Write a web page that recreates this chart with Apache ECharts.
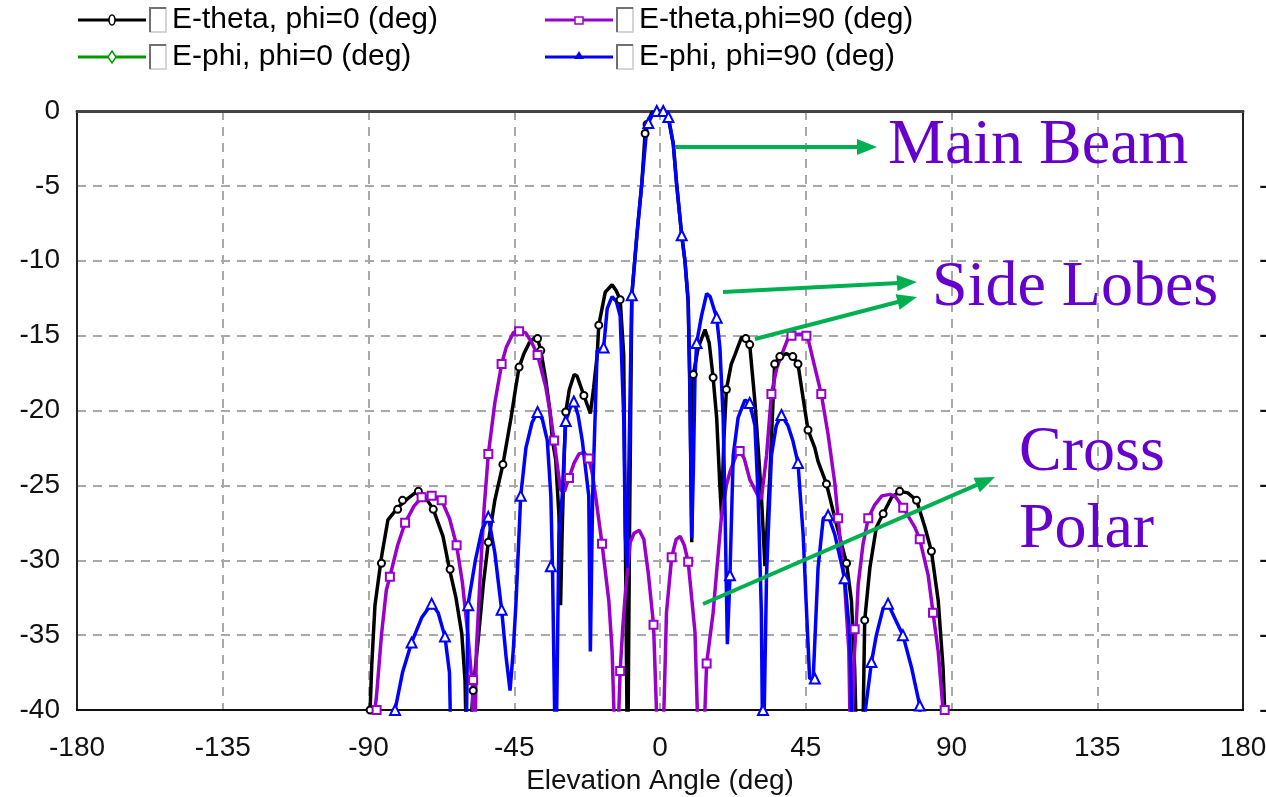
<!DOCTYPE html>
<html><head><meta charset="utf-8">
<script src="https://cdn.jsdelivr.net/npm/echarts@6/dist/echarts.min.js"></script>
<style>html,body{margin:0;padding:0;background:#fff}#c{width:1266px;height:797px}</style>
</head><body><div id="c"></div>
<script>
// ---------- DATA ----------
const seriesNames = ['E-theta, phi=0 (deg)', 'E-phi, phi=0 (deg)', 'E-theta,phi=90 (deg)', 'E-phi, phi=90 (deg)'];
const annotations = ['Main Beam', 'Side Lobes', 'Cross', 'Polar'];
const xAxisTitle = 'Elevation Angle (deg)';

// [elevation deg, dB]; values below the -40 dB floor read as -45
const eThetaPhi0 = [[-89.5,-40],[-89,-37],[-88,-33],[-86,-29.8],[-84,-27.3],[-81,-26.5],[-78,-25.9],[-75,-25.4],[-73,-25.6],[-70,-26.6],[-67,-28.4],[-65,-30.6],[-63,-32.5],[-61.2,-34.9],[-60.2,-38],[-59.5,-45],[-58.7,-42],[-57.7,-38.7],[-56,-35],[-54.5,-31.5],[-53,-28.8],[-51,-26],[-48.5,-23.6],[-46,-20.5],[-44.5,-18.4],[-43.5,-17.1],[-42,-16.2],[-40.4,-15.5],[-38.5,-15.1],[-37.8,-15.2],[-36.8,-16],[-35.3,-17.9],[-34,-20],[-33.2,-22],[-32.2,-23.3],[-31.2,-27],[-30.7,-33],[-30.2,-28],[-29.5,-22.5],[-29.1,-20.1],[-28,-18.6],[-26.5,-17.6],[-25.6,-17.7],[-23.5,-19],[-21.5,-20.2],[-20.5,-18.5],[-19.4,-16.3],[-18.9,-14.3],[-16.9,-12.1],[-14.8,-11.6],[-13.5,-12],[-12.3,-12.6],[-11.2,-16.3],[-10.7,-28.3],[-10,-45],[-9.4,-28],[-8.7,-12.3],[-7.1,-8.2],[-5.6,-4.8],[-4.6,-1.5],[-4,-0.9],[-2.5,-0.1],[0,0],[2,-0.3],[2.6,-0.5],[4.1,-2.2],[5.1,-4.8],[6.7,-8.3],[7.7,-10],[8.7,-12.8],[9.2,-18.4],[9.8,-28.8],[10.3,-17.6],[11.8,-15.8],[13.9,-14.6],[15.2,-15.5],[16.4,-17.8],[17.5,-20.5],[18.5,-25.1],[19,-27],[19.7,-22],[20.5,-18.6],[22,-16.9],[23.1,-16.3],[25.2,-15.1],[26.5,-15.2],[27.7,-15.6],[29.3,-19.4],[30.3,-22.5],[31.3,-25.7],[32.4,-30.4],[33.9,-24.4],[35.4,-16.9],[37,-16.4],[39,-16.2],[41,-16.4],[42.6,-16.9],[44.2,-19.2],[45.7,-21.3],[47.8,-22.5],[48.8,-23.4],[51.4,-24.9],[54,-27.2],[57.6,-30.2],[59.1,-32.7],[60.1,-37.2],[61,-45],[62.4,-45],[63.2,-34],[64.8,-30.5],[66.8,-27.8],[68.9,-26.9],[71.5,-25.8],[74,-25.4],[76.5,-25.5],[79.2,-26],[81.8,-27.8],[83.8,-29.4],[85.9,-32.7],[87.4,-37.2],[87.9,-40]];
const ePhiPhi0 = []; // entirely below the -40 dB floor
const eThetaPhi90 = [[-88,-40],[-87.5,-39],[-86,-35],[-84.5,-32],[-83.4,-31.1],[-81,-29],[-78.7,-27.5],[-76,-26.4],[-73.6,-25.8],[-70,-25.7],[-67.4,-26],[-65,-27.2],[-62.8,-29],[-61,-31.5],[-59.3,-35],[-57.9,-38.5],[-57.3,-45],[-56.7,-36],[-55.5,-31],[-54.3,-26.5],[-53,-22.9],[-51,-19.5],[-48.9,-16.9],[-47.5,-15.8],[-45.3,-14.8],[-44,-14.7],[-41.5,-14.8],[-39.5,-15.5],[-37.8,-16.3],[-35.3,-18.4],[-34,-20],[-32.7,-22],[-31.5,-24],[-30.7,-25.3],[-29.5,-25.4],[-28.1,-24.5],[-26.5,-23.5],[-25,-22.9],[-23.5,-22.8],[-22,-23.2],[-20.9,-24.2],[-19.9,-25.7],[-17.9,-28.9],[-15.8,-32.7],[-14.8,-36],[-13.5,-45],[-12.3,-37.4],[-11.5,-34.5],[-10.7,-32.2],[-9.2,-28.8],[-8,-28.2],[-6.4,-28],[-5,-28.6],[-3.6,-30.9],[-2,-34.3],[-0.3,-45],[0.6,-45],[2,-33.5],[3.6,-29.8],[5,-28.6],[6.2,-28.4],[7.5,-29],[8.7,-30.1],[10.8,-34.8],[12.2,-45],[13,-45],[14.4,-36.9],[16.4,-33.5],[19,-27],[20.5,-25],[21.6,-24.1],[23.5,-23],[24.6,-22.7],[26,-23.2],[27.7,-24.6],[30.3,-25.7],[31.3,-25.9],[32.9,-23],[34.4,-18.9],[36,-17.2],[37.5,-16.3],[39.5,-15.2],[41,-15],[42.6,-14.9],[44.5,-14.9],[45.7,-15.2],[47.8,-17.1],[49.8,-18.9],[51.9,-21.6],[54,-24.9],[55,-27.2],[57,-31.6],[58.3,-36],[59,-45],[59.8,-37],[60.5,-34.6],[61.2,-31.6],[62.7,-28.9],[64.3,-27.2],[66.3,-26.3],[68.5,-25.7],[71,-25.6],[72.5,-25.7],[75.1,-26.5],[78.7,-27.8],[80.2,-28.6],[82.8,-31],[84.3,-33.5],[85.9,-36.1],[87.4,-40]];
const ePhiPhi90 = [[-82.3,-45],[-81.8,-40],[-79.5,-37.5],[-76.7,-35.5],[-73.5,-33.8],[-70.5,-32.9],[-68.5,-33.5],[-66.4,-35.1],[-65,-37.5],[-64.3,-45],[-60,-45],[-59.3,-33],[-57,-30],[-55,-28],[-53,-27.1],[-51,-29.5],[-48.9,-33.3],[-47.5,-36.5],[-46.3,-38.7],[-45.3,-36],[-44.5,-33],[-43,-25.7],[-41.4,-22.5],[-39.5,-20.8],[-37.8,-20.1],[-36.3,-20.6],[-34.8,-22],[-33.7,-25.7],[-33.2,-30.4],[-32.2,-45],[-31.2,-28.3],[-30.2,-25.7],[-29.1,-20.7],[-27.5,-19.7],[-26.6,-19.4],[-25.3,-20.3],[-24,-22],[-22,-25.7],[-21.5,-36.1],[-20.8,-25.7],[-19.4,-16],[-17.4,-15.8],[-16.3,-13.2],[-14.8,-12.4],[-13.5,-12.7],[-12.3,-13.7],[-11.2,-20.5],[-10.7,-28.3],[-10.2,-30.5],[-9.7,-25],[-9.2,-18.4],[-8.7,-12.3],[-7.1,-8.2],[-5.6,-4.8],[-4.1,-1.2],[-3.6,-0.8],[-2,-0.1],[0,0],[1.5,-0.1],[2.6,-0.4],[4.1,-2.2],[5.1,-4.8],[6.7,-8.3],[7.7,-10],[8.7,-12.6],[9.2,-17.8],[9.8,-28.5],[10.3,-24],[10.8,-17.8],[11.3,-15.5],[12.8,-13.7],[14.4,-12.2],[15.5,-12.4],[17.5,-13.8],[18.5,-15.8],[19.5,-20.5],[20,-25.7],[20.8,-35.6],[21.6,-31],[22.6,-23],[24.1,-20.5],[26.2,-19.3],[27.7,-19.5],[29.3,-21],[30.3,-25.7],[31.3,-33.5],[31.8,-45],[32.9,-30.9],[34.4,-23],[35.9,-21],[37.5,-20.3],[39.5,-21],[41,-22],[42.6,-23.5],[44.2,-28.3],[45.2,-33.2],[46.2,-37.9],[47.3,-37.9],[48.8,-30.5],[50.4,-27.2],[51.9,-27],[54,-28.3],[57,-31.2],[58.6,-35],[59.6,-45],[63,-45],[63.4,-40],[65.3,-36.8],[66.8,-35],[68.9,-33.2],[70.4,-32.9],[73,-34.1],[75,-35],[77.7,-37.2],[80.2,-39.7],[80.7,-45]];

// marker positions (sparse sample markers drawn on the curves)
const eThetaPhi0Markers = [[-89.5,-40],[-86,-30.2],[-81,-26.6],[-79.5,-26],[-74.6,-25.4],[-70,-26.6],[-64.8,-30.6],[-57.7,-38.7],[-53,-28.8],[-48.5,-23.6],[-43.5,-17.1],[-37.8,-15.2],[-36.8,-16],[-29.1,-20.1],[-23.5,-19],[-18.9,-14.3],[-12.3,-12.6],[-4.6,-1.5],[-4,-0.9],[10.3,-17.6],[16.4,-17.8],[20.5,-18.6],[26.5,-15.2],[27.7,-15.6],[35.4,-16.9],[37,-16.4],[41,-16.4],[42.6,-16.9],[45.7,-21.3],[51.4,-24.9],[57.6,-30.2],[63.2,-34],[68.9,-26.9],[74,-25.4],[79.2,-26],[83.8,-29.4],[87.9,-40]];
const ePhiPhi0Markers = [];
const eThetaPhi90Markers = [[-87.5,-40],[-83.4,-31.1],[-78.7,-27.5],[-73.6,-25.8],[-70.5,-25.7],[-67.4,-26],[-62.8,-29],[-57.7,-38],[-53,-22.9],[-48.9,-16.9],[-43.5,-14.7],[-37.8,-16.3],[-32.7,-22],[-28.1,-24.5],[-22,-23.2],[-17.9,-28.9],[-12.3,-37.4],[-2,-34.3],[3.6,-29.8],[8.7,-30.1],[14.4,-36.9],[24.6,-22.7],[34.4,-18.9],[40.6,-15],[45.2,-15],[49.8,-18.9],[55,-27.2],[60.1,-34.6],[64.3,-27.2],[75.1,-26.5],[80.2,-28.6],[84.3,-33.5],[87.9,-40]];
const ePhiPhi90Markers = [[-81.8,-40],[-76.7,-35.5],[-70.5,-32.9],[-66.4,-35.1],[-59.2,-33],[-53,-27.1],[-48.9,-33.3],[-43,-25.7],[-37.8,-20.1],[-33.7,-30.4],[-29.1,-20.7],[-26.6,-19.4],[-17.4,-15.8],[-8.7,-12.3],[-3.6,-0.8],[-1,0],[1,0],[2.6,-0.4],[6.7,-8.3],[11.3,-15.5],[17.5,-13.8],[21.6,-31],[27.7,-19.5],[31.8,-40],[37.5,-20.3],[42.6,-23.5],[47.8,-37.9],[51.9,-27],[57,-31.2],[65.3,-36.8],[70.4,-32.9],[75,-35],[80.2,-39.7]];

// ---------- STYLE ----------
const colors = ['#000000', '#009A00', '#9A00CC', '#0000FF'];
const markerSymbols = ['circle', 'emptyDiamond', 'rect', 'triangle'];
const lines = [eThetaPhi0, ePhiPhi0, eThetaPhi90, ePhiPhi90];
const markers = [eThetaPhi0Markers, ePhiPhi0Markers, eThetaPhi90Markers, ePhiPhi90Markers];
const SANS = 'Liberation Sans, Arial, sans-serif';
const SERIF = 'Liberation Serif, Times New Roman, serif';
const annColor = '#6600CC';
const arrowColor = '#00B050';

const series = [];
seriesNames.forEach((n, i) => {
  series.push({
    name: n, type: 'line', data: lines[i], showSymbol: false, clip: true,
    lineStyle: { color: colors[i], width: 3.5 }, z: 3 + i, animation: false
  });
});
seriesNames.forEach((n, i) => {
  series.push({
    name: n + ' markers', type: 'scatter', data: markers[i], clip: false,
    symbol: markerSymbols[i],
    symbolSize: i === 3 ? 10 : (i === 2 ? 8 : 7),
    itemStyle: { color: '#fff', borderColor: colors[i], borderWidth: 2, opacity: 1 },
    z: 10 + i, animation: false, silent: true
  });
});

// ---------- LEGEND (custom, with check boxes) ----------
const graphic = [];
function legendItem(i, x0, y) {
  const c = colors[i];
  graphic.push({ type: 'line', shape: { x1: x0, y1: y, x2: x0 + 68, y2: y }, style: { stroke: c, lineWidth: 3 } });
  const mx = x0 + 34;
  if (i === 0) graphic.push({ type: 'ellipse', shape: { cx: mx, cy: y, rx: 3, ry: 5 }, style: { fill: '#fff', stroke: c, lineWidth: 1.5 } });
  if (i === 1) graphic.push({ type: 'polygon', shape: { points: [[mx, y - 6], [mx + 4, y], [mx, y + 6], [mx - 4, y]] }, style: { fill: '#fff', stroke: c, lineWidth: 1.5 } });
  if (i === 2) graphic.push({ type: 'rect', shape: { x: mx - 4, y: y - 3, width: 8, height: 7 }, style: { fill: '#fff', stroke: c, lineWidth: 1.5 } });
  if (i === 3) graphic.push({ type: 'polygon', shape: { points: [[mx, y - 6], [mx + 5, y + 2], [mx - 5, y + 2]] }, style: { fill: c } });
  const bx = x0 + 72;
  graphic.push({ type: 'rect', shape: { x: bx, y: y - 12, width: 16, height: 24 }, style: { fill: '#fff', stroke: '#c8c8c8', lineWidth: 1.5 } });
  graphic.push({ type: 'polyline', shape: { points: [[bx, y + 12], [bx, y - 12], [bx + 16, y - 12]] }, style: { stroke: '#707070', lineWidth: 2, fill: null } });
  graphic.push({ type: 'text', x: bx + 22, y: y, style: { text: seriesNames[i], font: '30px ' + SANS, fill: '#000', verticalAlign: 'middle', align: 'left' } });
}
legendItem(0, 78, 20);
legendItem(1, 78, 57);
legendItem(2, 545, 20);
legendItem(3, 545, 57);

// ---------- ANNOTATIONS ----------
function arrow(x1, y1, x2, y2) {
  const a = Math.atan2(y2 - y1, x2 - x1), L = 20, W = 8;
  const s = Math.sin(a), c = Math.cos(a);
  const bx = x2 - L * c, by = y2 - L * s;
  graphic.push({ type: 'line', z: 50, shape: { x1, y1, x2: bx + 2 * c, y2: by + 2 * s }, style: { stroke: arrowColor, lineWidth: 4 } });
  graphic.push({ type: 'polygon', z: 50, shape: { points: [[x2, y2], [bx - W * s, by + W * c], [bx + W * s, by - W * c]] }, style: { fill: arrowColor } });
}
arrow(675, 147, 877, 147);
arrow(723, 292, 917, 282);
arrow(755, 339, 917, 297);
arrow(703, 604, 995, 477);
function ann(t, x, y) {
  graphic.push({ type: 'text', z: 50, x, y, style: { text: t, font: '64px ' + SERIF, fill: annColor, verticalAlign: 'middle', align: 'left' } });
}
ann(annotations[0], 888, 146);
ann(annotations[1], 932, 288);
ann(annotations[2], 1019, 453);
ann(annotations[3], 1019, 530);

// ---------- CHART ----------
const chart = echarts.init(document.getElementById('c'), null, { renderer: 'canvas' });
const axisLabel = { fontFamily: SANS, fontSize: 28, color: '#111' };
const frameLine = (c) => ({ show: true, onZero: false, lineStyle: { color: c, width: 2 } });
chart.setOption({
  animation: false,
  backgroundColor: '#fff',
  grid: { left: 77, right: 23, top: 111, bottom: 87, show: true, borderColor: '#222', borderWidth: 2, backgroundColor: '#fff', containLabel: false, outerBoundsMode: 'none' },
  xAxis: [{
    type: 'value', min: -180, max: 180, interval: 45, position: 'bottom',
    name: xAxisTitle, nameLocation: 'middle', nameGap: 56,
    nameTextStyle: { fontFamily: SANS, fontSize: 28, color: '#111' },
    axisLine: frameLine('#111'), axisTick: { show: false },
    axisLabel: Object.assign({ margin: 24 }, axisLabel),
    splitLine: { show: true, lineStyle: { color: '#a8a8a8', width: 2, type: [9, 7] } }
  }, {
    type: 'value', min: -180, max: 180, interval: 45, position: 'top',
    axisLine: { show: true, onZero: false, lineStyle: { color: '#444', width: 3 } },
    axisTick: { show: false }, axisLabel: { show: false }, splitLine: { show: false }
  }],
  yAxis: [{
    type: 'value', min: -40, max: 0, interval: 5,
    axisLine: frameLine('#222'), axisTick: { show: false },
    axisLabel: Object.assign({ margin: 17 }, axisLabel),
    splitLine: { show: true, lineStyle: { color: '#a8a8a8', width: 2, type: [9, 7] } }
  }, {
    type: 'value', min: -40, max: 0, interval: 5, position: 'right',
    axisLine: frameLine('#222'), axisTick: { show: false },
    axisLabel: Object.assign({ margin: 16, formatter: v => (v === 0 ? '' : String(v)) }, axisLabel),
    splitLine: { show: false }
  }],
  series: series,
  graphic: graphic
});
</script>
</body></html>
